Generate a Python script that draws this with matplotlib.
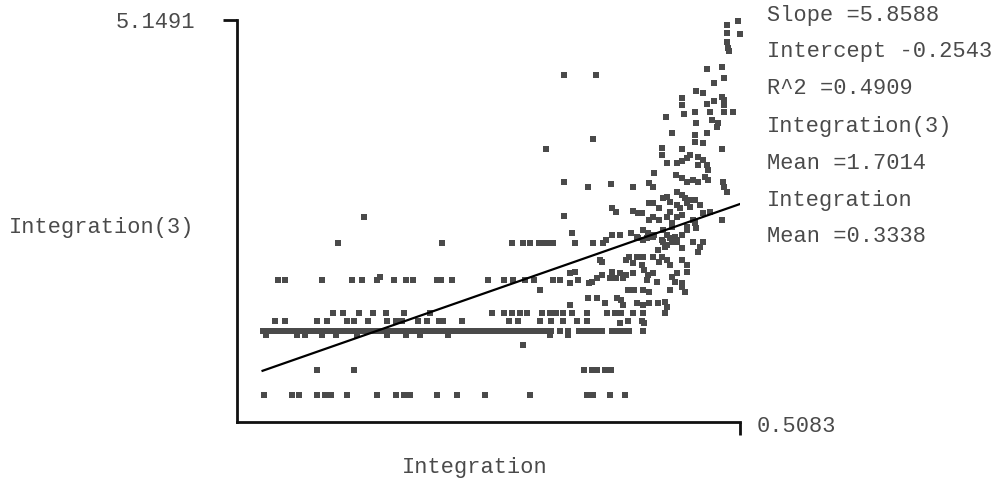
import matplotlib
matplotlib.use("Agg")
import matplotlib.pyplot as plt

# regression summary shown on the right
slope = 5.8588
intercept = -0.2543
r2 = 0.4909
mean_y = 1.7014
mean_x = 0.3338
x_max = 0.5083
y_max = 5.1491

# points that sit on the horizontal "rows" of Integration(3)
row_021 = [0.134, 0.156, 0.162, 0.176, 0.182, 0.187, 0.199, 0.223, 0.238, 0.244,
           0.249, 0.270, 0.286, 0.308, 0.343, 0.388, 0.393, 0.406, 0.418]
row_053 = [0.176, 0.205, 0.386, 0.392, 0.396, 0.402, 0.407]
row_100 = [0.136, 0.160, 0.166, 0.180, 0.191, 0.207, 0.231, 0.246, 0.257, 0.279,
           0.359, 0.373]
row_105 = [0.133, 0.136, 0.140, 0.144, 0.148, 0.152, 0.156, 0.160, 0.164, 0.168,
           0.172, 0.176, 0.180, 0.184, 0.188, 0.191, 0.195, 0.199, 0.203, 0.207,
           0.211, 0.215, 0.219, 0.223, 0.227, 0.231, 0.235, 0.239, 0.242, 0.246,
           0.250, 0.254, 0.258, 0.262, 0.266, 0.270, 0.274, 0.278, 0.282, 0.286,
           0.290, 0.293, 0.297, 0.301, 0.305, 0.309, 0.313, 0.317, 0.321, 0.325,
           0.329, 0.333, 0.337, 0.341, 0.344, 0.348, 0.351, 0.355, 0.360, 0.367,
           0.373, 0.382, 0.386, 0.390, 0.394, 0.398, 0.400, 0.408, 0.412, 0.416,
           0.419, 0.421, 0.432]
row_118 = [0.143, 0.151, 0.176, 0.184, 0.199, 0.205, 0.216, 0.231, 0.238, 0.243,
           0.255, 0.262, 0.272, 0.275, 0.290, 0.327, 0.334, 0.351, 0.360, 0.369,
           0.380, 0.388, 0.420, 0.431]
row_129 = [0.188, 0.196, 0.209, 0.220, 0.230, 0.244, 0.265, 0.313, 0.323, 0.329,
           0.335, 0.341, 0.353, 0.359, 0.364, 0.369, 0.376, 0.388, 0.404, 0.410,
           0.415, 0.424, 0.432, 0.449]
row_172 = [0.145, 0.151, 0.180, 0.203, 0.211, 0.223, 0.236, 0.246, 0.251, 0.270,
           0.273, 0.282, 0.310, 0.323, 0.330, 0.339, 0.346, 0.361, 0.367, 0.381]
row_221 = [0.192, 0.274, 0.329, 0.338, 0.343, 0.350, 0.353, 0.357, 0.361, 0.379,
           0.393, 0.401]
row_levels = [0.21, 0.53, 1.00, 1.05, 1.18, 1.29, 1.72, 2.21]
rows = [row_021, row_053, row_100, row_105, row_118, row_129, row_172, row_221]

# the remaining scattered points (Integration, Integration(3))
others = [
    (0.338, 0.87), (0.213, 2.55), (0.351, 1.59), (0.376, 2.34), (0.225, 1.76),
    (0.370, 4.42), (0.395, 4.42), (0.393, 3.58), (0.356, 3.45), (0.370, 3.01),
    (0.389, 2.95), (0.407, 2.99), (0.424, 2.95), (0.370, 2.57), (0.408, 2.67),
    (0.411, 2.62), (0.424, 2.63), (0.428, 2.61), (0.437, 3.00), (0.440, 2.95),
    (0.507, 5.14), (0.498, 5.08), (0.498, 4.98), (0.508, 4.96), (0.498, 4.86),
    (0.499, 4.78), (0.500, 4.74), (0.482, 4.50), (0.494, 4.53), (0.496, 4.38),
    (0.488, 4.32), (0.474, 4.21), (0.479, 4.19), (0.463, 4.12), (0.463, 4.03),
    (0.482, 4.04), (0.488, 4.08), (0.494, 4.13), (0.496, 4.09), (0.496, 4.03),
    (0.450, 3.87), (0.464, 3.91), (0.473, 3.94), (0.485, 3.94), (0.496, 3.94),
    (0.503, 3.94), (0.474, 3.79), (0.486, 3.83), (0.491, 3.79), (0.490, 3.74),
    (0.455, 3.66), (0.482, 3.66), (0.473, 3.63), (0.473, 3.54), (0.479, 3.53),
    (0.494, 3.45), (0.447, 3.46), (0.447, 3.37), (0.463, 3.45), (0.469, 3.37),
    (0.467, 3.33), (0.459, 3.26), (0.463, 3.29), (0.451, 3.26), (0.475, 3.34),
    (0.475, 3.24), (0.479, 3.30), (0.482, 3.24), (0.483, 3.17), (0.441, 3.13),
    (0.458, 3.11), (0.463, 3.07), (0.467, 3.01), (0.471, 3.04), (0.475, 3.01),
    (0.481, 3.08), (0.483, 3.04), (0.495, 3.01), (0.496, 2.95), (0.498, 2.88),
    (0.459, 2.88), (0.463, 2.84), (0.465, 2.80), (0.469, 2.78), (0.473, 2.78),
    (0.448, 2.80), (0.451, 2.82), (0.437, 2.74), (0.440, 2.74), (0.453, 2.75),
    (0.445, 2.67), (0.459, 2.71), (0.461, 2.67), (0.467, 2.74), (0.469, 2.68),
    (0.477, 2.71), (0.431, 2.61), (0.440, 2.55), (0.437, 2.51), (0.453, 2.62),
    (0.451, 2.55), (0.459, 2.55), (0.463, 2.58), (0.471, 2.51), (0.479, 2.61),
    (0.485, 2.62), (0.494, 2.51), (0.467, 2.42), (0.473, 2.47), (0.467, 2.38),
    (0.474, 2.41), (0.455, 2.47), (0.455, 2.42), (0.445, 2.51), (0.432, 2.38),
    (0.408, 2.32), (0.414, 2.32), (0.423, 2.34), (0.427, 2.29), (0.436, 2.34),
    (0.441, 2.32), (0.448, 2.38), (0.451, 2.32), (0.453, 2.28), (0.457, 2.29),
    (0.459, 2.22), (0.448, 2.22), (0.451, 2.18), (0.471, 2.22), (0.463, 2.32),
    (0.403, 2.25), (0.428, 2.28), (0.432, 2.25), (0.435, 2.28), (0.440, 2.29),
    (0.447, 2.25), (0.455, 2.22), (0.459, 2.25), (0.444, 2.12), (0.447, 2.03),
    (0.449, 2.16), (0.477, 2.16), (0.475, 2.09), (0.479, 2.22), (0.463, 2.14),
    (0.398, 1.99), (0.421, 2.03), (0.427, 2.03), (0.432, 2.03), (0.424, 1.95),
    (0.431, 1.92), (0.445, 1.96), (0.451, 1.99), (0.453, 1.92), (0.463, 1.99),
    (0.467, 1.92), (0.467, 1.83), (0.400, 1.79), (0.406, 1.75), (0.411, 1.75),
    (0.416, 1.75), (0.408, 1.83), (0.414, 1.81), (0.433, 1.85), (0.436, 1.79),
    (0.440, 1.81), (0.455, 1.76), (0.459, 1.81), (0.457, 1.70), (0.463, 1.68),
    (0.443, 1.70), (0.435, 1.72), (0.420, 1.59), (0.425, 1.59), (0.432, 1.59),
    (0.437, 1.56), (0.453, 1.59), (0.463, 1.63), (0.465, 1.56), (0.402, 1.42),
    (0.415, 1.46), (0.416, 1.39), (0.427, 1.42), (0.432, 1.39), (0.437, 1.42),
    (0.449, 1.43), (0.451, 1.37), (0.444, 1.42), (0.433, 1.16), (0.414, 1.16),
    (0.392, 1.70), (0.396, 1.75), (0.419, 1.79), (0.419, 1.99), (0.424, 1.81),
    (0.400, 1.96), (0.389, 1.48), (0.396, 1.48), (0.412, 1.48), (0.375, 1.39),
    (0.375, 1.68), (0.375, 1.81), (0.379, 1.83), (0.390, 1.68), (0.440, 2.03),
]

# gather everything into two columns
xs, ys = [], []
for level, row in zip(row_levels, rows):
    xs += row
    ys += [level] * len(row)
for px, py in others:
    xs.append(px)
    ys.append(py)

font = "Liberation Mono"
fs = 15.8
txt_color = "#4a4a4a"

fig = plt.figure(figsize=(9.97, 4.86), dpi=100)
ax = fig.add_axes([0.2377, 0.1317, 0.5045, 0.8271])

ax.plot(xs, ys, linestyle="none", marker="s", markersize=4.7,
        markeredgewidth=0, color="#4a4a4a", clip_on=False)

# fitted line over the data range
x0, x1 = min(xs), max(xs)
ax.plot([x0, x1], [slope * x0 + intercept, slope * x1 + intercept],
        color="black", linewidth=1.6)

ax.set_xlim(0.1129, x_max)
ax.set_ylim(-0.15, y_max)

for side in ["top", "right"]:
    ax.spines[side].set_visible(False)
for side in ["left", "bottom"]:
    ax.spines[side].set_linewidth(2.0)
    ax.spines[side].set_color("#111111")

ax.set_yticks([y_max])
ax.set_yticklabels(["%.4f" % y_max], fontfamily=font, fontsize=fs, color=txt_color)
ax.tick_params(axis="y", direction="out", length=10, width=2.0, pad=20,
               color="#111111")
ax.set_xticks([x_max])
ax.set_xticklabels([""])
ax.tick_params(axis="x", direction="out", length=9, width=2.0, color="#111111")

ax.annotate("%.4f" % x_max, xy=(x_max, -0.15), xycoords="data",
            xytext=(12, -3), textcoords="offset points", ha="left", va="center",
            fontfamily=font, fontsize=fs, color=txt_color, annotation_clip=False)

ax.set_ylabel("Integration(3)", rotation=0, ha="right", va="center",
              fontfamily=font, fontsize=fs, color=txt_color)
ax.yaxis.set_label_coords(-0.084, 0.483)
ax.set_xlabel("Integration", ha="center", va="center",
              fontfamily=font, fontsize=fs, color=txt_color)
ax.xaxis.set_label_coords(0.473, -0.114)

stats = [
    "Slope =%.4f" % slope,
    "Intercept %.4f" % intercept,
    "R^2 =%.4f" % r2,
    "Integration(3)",
    "Mean =%.4f" % mean_y,
    "Integration",
    "Mean =%.4f" % mean_x,
]
for i, s in enumerate(stats):
    fig.text(0.7693, 1 - (15 + 37 * i) / 486, s, ha="left", va="center",
             fontfamily=font, fontsize=fs, color=txt_color)

plt.savefig("out.png", dpi=100)
